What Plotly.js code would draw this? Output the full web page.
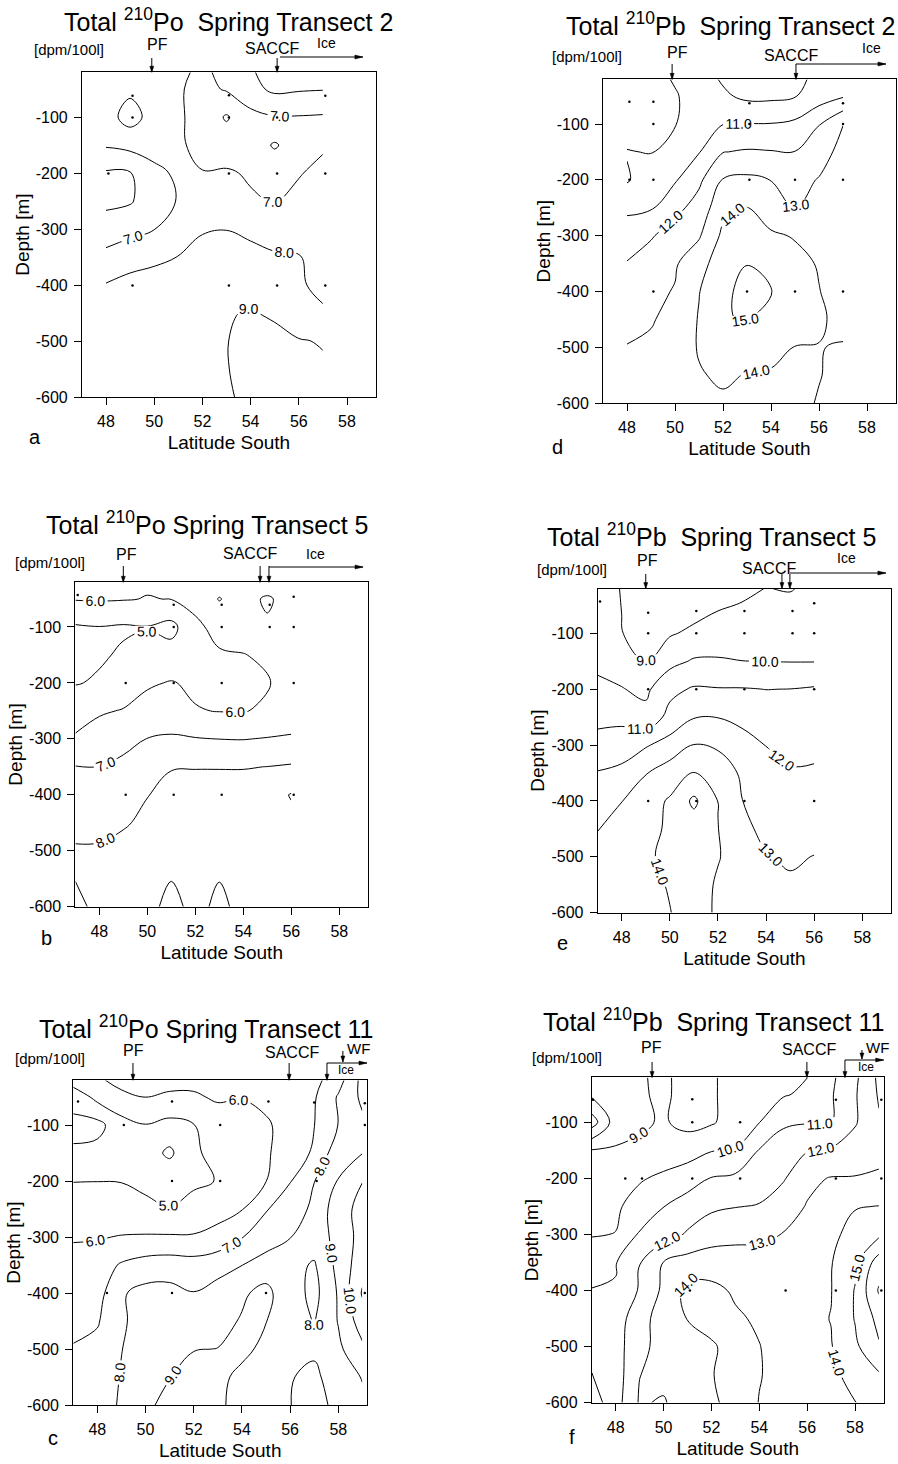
<!DOCTYPE html>
<html><head><meta charset="utf-8">
<script src="https://cdn.plot.ly/plotly-3.0.1.min.js"></script>
<style>html,body{margin:0;padding:0;background:#fff}#chart{width:898px;height:1464px}</style>
</head><body><div id="chart"></div>
<script>
// ---------- data ----------
const depths = [-20,-50,-100,-150,-200,-250,-300,-350,-400,-450,-500,-550,-600];
const latT2  = [48,49,50,51,52,53,54,55,56,57];
const latT5  = [47,48,49,50,51,52,53,54,55,56];
const latT11 = [47,48,49,50,51,52,53,54,55,56,57,58,59];

// Total 210Po, transect 2 (rows = depths, cols = latT2)
const poT2 = [
 [7.6,7.8,7.5,7.2,6.8,7.3,7.9,8.4,8.3,8.3],
 [7.5,7.8,7.5,7.1,6.7,7.1,7.7,8.2,8.1,8.05],
 [7.6,8.4,7.6,7.15,6.6,5.9,6.7,6.95,6.95,6.9],
 [7.1,7.3,7.5,7.2,6.6,6.5,6.5,5.9,6.5,6.9],
 [5.9,5.95,6.7,7.2,7.05,7.1,6.9,6.6,6.95,7.2],
 [5.8,5.9,6.6,7.05,7.3,7.3,7.1,6.95,7.2,7.4],
 [6.4,6.7,6.98,7.4,7.95,7.98,7.85,7.6,7.5,7.6],
 [7.3,7.6,7.8,8.02,8.2,8.4,8.2,8.1,8.05,7.7],
 [8.05,8.3,8.4,8.6,8.7,8.8,8.8,8.5,8.1,7.8],
 [8.3,8.5,8.6,8.7,8.8,8.95,9.05,8.9,8.5,8.1],
 [8.4,8.6,8.7,8.8,8.9,8.97,9.3,9.2,9.05,8.95],
 [8.5,8.6,8.7,8.8,8.9,8.96,9.3,9.3,9.2,9.1],
 [8.5,8.6,8.7,8.8,8.9,8.95,9.1,9.3,9.3,9.2]
];
// Total 210Pb, transect 2
const pbT2 = [
 [9.7,9.6,10.1,10.4,9.9,9.6,9.6,9.8,10.2,10.5],
 [9.6,9.5,9.9,10.5,10.15,9.8,9.8,9.95,10.5,10.9],
 [9.5,9.5,9.95,10.6,10.98,11.02,11.03,11.2,11.95,12.98],
 [10.05,9.95,10.5,10.95,11.97,12.1,12.05,12.02,12.6,13.3],
 [9.9,10.6,10.9,11.8,13.05,13.2,12.98,12.7,13.05,13.6],
 [10.8,10.9,11.7,12.4,13.7,14.05,13.6,12.97,13.3,13.6],
 [11.5,11.9,12.5,12.9,14.2,14.5,14.1,13.95,13.6,13.5],
 [12.05,12.5,12.9,13.6,14.6,14.97,14.7,14.2,13.95,13.6],
 [12.4,12.8,13.05,13.97,14.7,15.4,15.02,14.5,14.02,13.7],
 [12.6,12.9,13.4,14.05,14.95,15.05,14.7,14.4,14.1,13.8],
 [13.05,13.2,13.6,14.05,14.4,14.5,14.3,13.98,13.98,14.05],
 [13.2,13.4,13.7,13.95,14.1,13.97,13.9,13.8,13.97,14.2],
 [13.3,13.5,13.7,13.8,13.9,13.8,13.7,13.8,14.05,14.3]
];
// Total 210Po, transect 5
const poT5 = [
 [6.3,6.3,6.2,6.1,6.3,6.5,6.6,6.7,6.8,6.8],
 [6.05,6.08,6.05,5.97,6.02,6.3,7.05,6.5,5.8,6.6],
 [4.9,4.98,4.9,4.97,4.7,5.8,6.3,6.3,6.2,6.5],
 [4.8,4.9,5.1,5.2,5.4,5.6,5.9,5.98,6.1,6.5],
 [4.95,5.1,5.5,5.9,6.05,5.85,5.6,5.7,5.95,6.3],
 [5.6,5.9,6.05,6.3,6.5,6.05,5.97,5.97,6.1,6.5],
 [6.1,6.4,6.6,7.02,7.1,7.05,6.99,6.97,7.05,7.1],
 [7.03,7.01,7.3,7.6,7.95,7.96,7.96,7.96,8.01,8.1],
 [7.4,7.5,7.7,7.97,8.3,8.4,8.4,8.4,8.6,9.05],
 [7.7,7.8,7.9,8.2,8.4,8.5,8.5,8.5,8.6,8.8],
 [8.1,8.08,8.3,8.5,8.6,8.6,8.6,8.6,8.6,8.7],
 [8.98,8.6,8.6,8.7,8.98,8.7,8.98,8.7,8.6,8.6],
 [9.2,8.8,8.6,8.8,9.2,8.8,9.15,8.8,8.6,8.6]
];
// Total 210Pb, transect 5
const pbT5 = [
 [9.2,8.98,8.6,8.5,8.5,8.6,8.8,9.02,8.95,9.2],
 [9.3,8.99,8.4,8.4,8.6,8.9,9.05,9.2,9.2,9.3],
 [9.4,9.02,8.7,8.9,9.2,9.4,9.5,9.5,9.5,9.6],
 [9.8,9.6,8.98,9.7,10.1,10.1,10.01,9.99,9.97,9.97],
 [10.2,10.04,9.8,10.75,11.1,11.05,11.05,10.99,11.01,11.1],
 [10.7,10.7,10.3,11.3,11.95,11.98,11.8,11.5,11.4,11.5],
 [11.4,11.6,11.9,12.4,13.02,12.8,12.3,11.98,11.7,11.8],
 [12.05,12.2,12.95,13.5,14.02,13.8,12.8,12.4,12.1,12.1],
 [12.7,12.98,13.6,14.1,15.2,13.98,13.02,12.5,12.4,12.5],
 [12.98,13.3,13.7,14.15,14.5,14.02,13.2,12.8,12.6,12.7],
 [13.2,13.4,13.8,14.3,14.5,14.05,13.6,13.05,12.9,13.02],
 [13.4,13.6,13.8,14.05,14.4,13.9,13.7,13.3,13.1,13.3],
 [13.5,13.7,13.85,13.98,14.3,13.9,13.6,13.4,13.3,13.3]
];
// Total 210Po, transect 11
const poT11 = [
 [5.5,5.9,6.2,6.15,6.2,6.2,6.3,6.4,6.5,6.6,6.7,7.6,9.3],
 [4.3,5.3,5.85,6.02,5.9,5.9,6.1,6.02,6.2,6.4,6.9,8.1,9.2],
 [3.8,3.7,4.6,4.97,4.7,4.97,5.6,5.8,5.9,6.3,6.98,8.02,8.8],
 [4.1,4.3,4.5,4.5,3.8,4.9,5.2,5.6,5.9,6.4,7.15,8.6,8.98],
 [4.98,4.99,4.98,4.9,4.8,4.9,5.02,5.5,5.98,6.95,7.98,9.05,9.98],
 [5.4,5.4,5.3,5.1,5.02,5.2,5.6,5.95,6.95,7.5,8.2,9.6,10.3],
 [5.9,5.93,6.05,6.1,6.1,6.1,6.35,6.97,7.3,7.98,8.5,9.3,10.4],
 [6.4,6.5,7.1,7.4,7.5,7.4,7.6,7.98,8.6,8.3,7.9,9.3,10.6],
 [6.6,6.6,7.9,8.3,8.3,8.03,8.4,8.9,9.2,8.5,7.7,9.1,11.1],
 [6.8,6.9,7.9,8.3,8.4,8.5,8.8,9.05,9.02,8.5,7.95,9.05,10.5],
 [7.05,7.3,7.98,8.4,8.7,8.97,9.01,9.2,8.8,8.05,8.15,8.8,9.8],
 [7.3,7.5,8.05,8.6,8.98,9.3,9.2,8.8,8.4,8.05,7.8,8.5,9.05],
 [7.4,7.6,8.1,8.9,9.15,9.3,9.1,8.8,8.3,8.02,7.6,8.3,8.8]
];
// Total 210Pb, transect 11
const pbT11 = [
 [8.7,8.8,8.95,9.1,8.8,8.9,9.3,9.5,9.7,9.98,10.8,11.8,13.2],
 [8.2,8.8,8.9,9.15,8.7,8.9,9.3,9.6,9.9,10.2,10.9,11.9,13.1],
 [6.5,8.5,8.85,9.1,8.7,8.9,9.4,9.98,10.85,10.95,10.97,11.9,12.9],
 [9.05,9.1,9.2,9.4,9.6,9.95,10.05,11.05,11.5,11.95,12.1,12.5,12.8],
 [9.6,9.7,9.9,10.2,10.5,11.05,11.2,11.6,11.9,12.8,13.05,13.05,13.1],
 [9.8,9.85,10.4,10.98,11.5,11.85,11.97,12.05,12.6,13.05,13.5,13.95,14.02],
 [9.95,10.02,11.1,11.6,12.1,12.5,12.7,12.8,13.03,13.3,13.8,14.3,14.8],
 [10.5,10.95,11.98,13.03,13.4,13.6,13.5,13.4,13.5,13.6,13.95,14.8,16.5],
 [11.05,11.05,12.1,13.2,14.3,14.2,13.9,13.7,13.7,13.8,13.97,15.05,17.1],
 [11.3,11.6,12.5,13.6,14.02,14.3,14.1,13.9,13.7,13.8,14.02,15.05,16.3],
 [11.6,11.6,12.7,13.4,13.7,13.9,14.3,14.02,13.7,13.7,13.95,14.8,15.9],
 [10.95,11.5,12.98,13.3,13.7,13.95,14.4,14.03,13.8,13.7,13.8,14.3,14.9],
 [10.5,11.6,13.1,12.9,13.6,13.8,14.4,13.98,13.7,13.6,13.8,13.98,14.4]
];

// sampling stations (lat, depth)
const stnLatA = [49.1,53.1,57.1,49.1,53.1,55.1,48.1,53.1,55.1,57.1,49.1,53.1,55.1,57.1];
const stnDepA = [-62,-61,-62,-101,-101,-101,-201,-201,-201,-201,-401,-401,-401,-401];
const stnLatD = [48.1,49.1,53.1,57,49.1,53.1,57,48.1,49.1,53.1,55,57,49.1,53,55,57];
const stnDepD = [-60,-60,-63,-63,-100,-100,-100,-200,-200,-200,-200,-200,-400,-400,-400,-400];
const stnLatB = [47.1,51.1,53.1,55.1,56.1,51.1,53.1,55.1,56.1,49.1,51.1,53.1,56.1,49.1,51.1,53.1,56.1];
const stnDepB = [-43,-60,-60,-60,-46,-100,-100,-100,-100,-200,-200,-200,-200,-400,-400,-400,-400];
const stnLatE = [47.1,49.1,51.1,53.1,55.1,56,49.1,51.1,53.1,55.1,56,49.1,51.1,53.1,56,49.1,51.1,53.1,56];
const stnDepE = [-43,-63,-60,-60,-60,-46,-100,-100,-100,-100,-100,-200,-200,-200,-200,-400,-400,-400,-400];
const stnLatC = [47.2,51.1,55.1,57,59.1,49.1,53.1,59.1,51.1,53.1,57.1,48.4,51.1,55,59.1];
const stnDepC = [-58,-58,-58,-60,-61,-100,-100,-100,-200,-200,-200,-400,-400,-400,-400];
const stnLatF = [47.05,51.2,57.2,59.1,51.2,53.2,48.4,49.1,51.2,53.2,57.2,59.1,51.1,55.1,57.2,59.1];
const stnDepF = [-60,-59,-60,-60,-100,-100,-200,-200,-200,-200,-200,-200,-400,-400,-400,-400];

// fronts (latitude South), panel order a, d, b, e, c, f
const pfLat    = [49.9, 49.88, 49.0, 49.0, 49.48, 49.52];
const saccfLat = [[55.1],[55.04],[54.7,55.07],[54.66,54.99],[55.96],[55.99]];
const iceLat   = [[55.22,58.66],[55.04,58.79],[55.07,58.99],[54.99,58.98],[57.53,59.19],[57.58,59.2]];
const wfLat    = [null,null,null,null,58.19,58.29];

const xTickVals = [48,50,52,54,56,58];
const yTickVals = [-100,-200,-300,-400,-500,-600];
const yTickText = ['-100','-200','-300','-400','-500','-600'];
const titles = [
 'Total <sup>210</sup>Po\u00a0 Spring Transect 2',
 'Total <sup>210</sup>Pb\u00a0 Spring Transect 2',
 'Total <sup>210</sup>Po Spring Transect 5',
 'Total <sup>210</sup>Pb\u00a0 Spring Transect 5',
 'Total <sup>210</sup>Po Spring Transect 11',
 'Total <sup>210</sup>Pb\u00a0 Spring Transect 11'
];
const letters = ['a','d','b','e','c','f'];

// ---------- layout geometry (pixels) ----------
const W = 898, H = 1464;
const FONT = 'Liberation Sans, Arial, Helvetica, sans-serif';
const panels = [
 {lat:latT2, z:poT2, sx:stnLatA, sy:stnDepA, x48:106, x58:347, y100:117, y600:397,
  title:[228,20], unit:[69,50], pf:[157,45], saccf:[272,48], ice:[326,43], wf:null, arrY:58, iceY:57, iceSmall:false,
  let:[35,437]},
 {lat:latT2, z:pbT2, sx:stnLatD, sy:stnDepD, x48:627, x58:867, y100:124, y600:403,
  title:[730,24], unit:[587,57], pf:[677,52], saccf:[791,55], ice:[871,48], wf:null, arrY:64, iceY:64, iceSmall:false,
  let:[557,447]},
 {lat:latT5, z:poT5, sx:stnLatB, sy:stnDepB, x48:99.3, x58:339.3, y100:627, y600:906.7,
  title:[207,523], unit:[50,562], pf:[126,555], saccf:[250,553], ice:[315,554], wf:null, arrY:566, iceY:567, iceSmall:false,
  let:[46,938]},
 {lat:latT5, z:pbT5, sx:stnLatE, sy:stnDepE, x48:621.7, x58:862.3, y100:633.3, y600:912.7,
  title:[711,535], unit:[572,569], pf:[647,560], saccf:[769,568], ice:[846,558], wf:null, arrY:574, iceY:573, iceSmall:false,
  let:[562,943]},
 {lat:latT11, z:poT11, sx:stnLatC, sy:stnDepC, x48:97.3, x58:338.3, y100:1125, y600:1405,
  title:[206,1027], unit:[50,1058], pf:[133,1050], saccf:[292,1052], ice:[346,1070], wf:[358,1048], arrY:1063, iceY:1063, iceSmall:true,
  let:[53,1438]},
 {lat:latT11, z:pbT11, sx:stnLatF, sy:stnDepF, x48:615.7, x58:855, y100:1122.3, y600:1402.7,
  title:[713,1020], unit:[567,1057], pf:[651,1047], saccf:[809,1049], ice:[866,1067], wf:[877,1047], arrY:1062, iceY:1060, iceSmall:true,
  let:[572,1437]}
];

const traces = [];
const layout = {
  width: W, height: H, margin:{l:0,r:0,t:0,b:0},
  paper_bgcolor:'#fff', plot_bgcolor:'#fff', showlegend:false,
  font:{family:FONT, color:'#000'}, annotations:[], shapes:[]
};
const px = x => x / W;
const py = y => 1 - y / H;

panels.forEach((p, i) => {
  const n = i === 0 ? '' : String(i + 1);
  const ppd = (p.x58 - p.x48) / 10;          // pixels per degree
  const ppm = (p.y600 - p.y100) / 500;       // pixels per metre
  const left = p.x48 - ppd, right = p.x58 + 1.2 * ppd;
  const top = p.y100 - 80 * ppm, bottom = p.y600;
  const latPx = lat => p.x48 + (lat - 48) * ppd;

  const axCommon = {showline:true, mirror:true, linecolor:'#000', linewidth:1, ticks:'outside',
    ticklen:7, tickwidth:1, tickcolor:'#000', showgrid:false, zeroline:false, ticklabelstandoff:3,
    tickfont:{size:16, family:FONT, color:'#000'}, fixedrange:true};
  layout['xaxis' + n] = Object.assign({}, axCommon, {domain:[px(left), px(right)], range:[47, 59.2],
    anchor:'y' + n, tickmode:'array', tickvals:xTickVals, ticktext:xTickVals.map(String),
    title:{text:'Latitude South', font:{size:19, family:FONT, color:'#000'}, standoff:6}});
  layout['yaxis' + n] = Object.assign({}, axCommon, {domain:[py(bottom), py(top)], range:[-600, -20],
    anchor:'x' + n, tickmode:'array', tickvals:yTickVals, ticktext:yTickText,
    title:{text:'Depth [m]', font:{size:19, family:FONT, color:'#000'}, standoff:1}});

  traces.push({type:'contour', x:p.lat, y:depths, z:p.z, xaxis:'x' + n, yaxis:'y' + n,
    showscale:false, autocontour:false, hoverinfo:'skip',
    colorscale:[[0,'#000'],[1,'#000']],
    contours:{coloring:'lines', start:1, end:20, size:1, showlabels:true,
      labelfont:{size:14, color:'#000', family:FONT}, labelformat:'.1f'},
    line:{width:1, smoothing:1.1}});
  traces.push({type:'scatter', mode:'markers', x:p.sx, y:p.sy, xaxis:'x' + n, yaxis:'y' + n,
    marker:{size:2.5, color:'#000'}, hoverinfo:'skip'});

  const A = layout.annotations, S = layout.shapes;
  const txt = (pos, text, size, extra) => A.push(Object.assign({xref:'paper', yref:'paper',
    x:px(pos[0]), y:py(pos[1]), text:text, showarrow:false, xanchor:'center', yanchor:'middle',
    font:{size:size, family:FONT, color:'#000'}}, extra || {}));
  const seg = (x0, y0, x1, y1) => S.push({type:'line', xref:'paper', yref:'paper',
    x0:px(x0), y0:py(y0), x1:px(x1), y1:py(y1), line:{color:'#000', width:1}});
  const tri = pts => S.push({type:'path', xref:'paper', yref:'paper',
    path:'M' + pts.map(q => px(q[0]) + ',' + py(q[1])).join('L') + 'Z',
    fillcolor:'#000', line:{color:'#000', width:0.5}});
  const downArrow = (lat, y0, y1) => {
    const x = latPx(lat);
    seg(x, y0, x, y1);
    tri([[x - 2, y1 - 6], [x + 2, y1 - 6], [x, y1]]);
  };
  const rightArrow = (x0, x1, y) => {
    seg(x0, y, x1, y);
    tri([[x1 - 8, y - 2], [x1 - 8, y + 2], [x1, y]]);
  };

  txt(p.title, titles[i], 25);
  txt(p.unit, '[dpm/100l]', 15);
  txt(p.pf, 'PF', 16);
  txt(p.saccf, 'SACCF', 16);
  txt(p.ice, 'Ice', p.iceSmall ? 12 : 14);
  if (p.wf) txt(p.wf, 'WF', 15);
  txt(p.let, letters[i], 20);

  downArrow(pfLat[i], p.arrY, top);
  saccfLat[i].forEach(l => downArrow(l, p.arrY, top));
  if (p.iceSmall) downArrow(iceLat[i][0], p.iceY, top);
  if (wfLat[i] !== null) downArrow(wfLat[i], p.wf[1] + 3, p.iceY - 1);
  rightArrow(latPx(iceLat[i][0]), latPx(iceLat[i][1]), p.iceY);
});

Plotly.newPlot('chart', traces, layout, {displayModeBar:false, staticPlot:true});
</script>
</body></html>
